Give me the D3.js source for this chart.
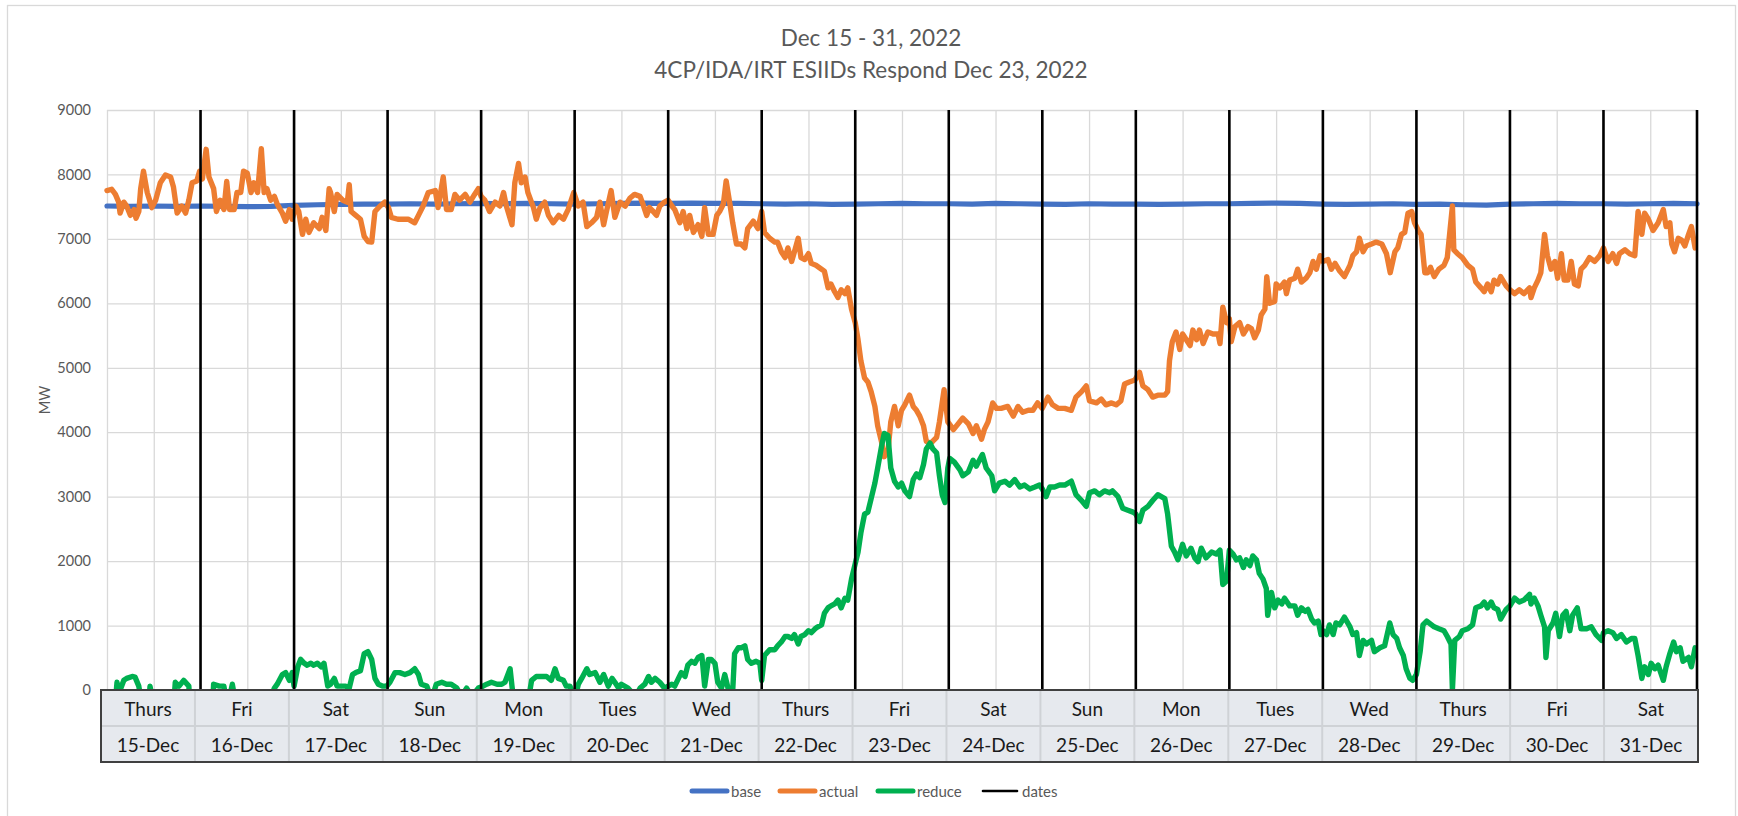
<!DOCTYPE html>
<html><head><meta charset="utf-8">
<script src="https://cdn.jsdelivr.net/npm/d3@7"></script>
<style>
body{margin:0;background:#fff;}
svg{display:block;font-family:Lato,"Open Sans",sans-serif;}
</style>
</head><body>
<svg id="chart" width="1738" height="816"></svg>
<script>
// ---------------- data ----------------
const titleLines = ["Dec 15 - 31, 2022", "4CP/IDA/IRT ESIIDs Respond Dec 23, 2022"];
const yAxisTitle = "MW";
const yTicks = [0,1000,2000,3000,4000,5000,6000,7000,8000,9000];
const dayNames = ["Thurs","Fri","Sat","Sun","Mon","Tues","Wed","Thurs","Fri","Sat","Sun","Mon","Tues","Wed","Thurs","Fri","Sat"];
const dateLabels = ["15-Dec","16-Dec","17-Dec","18-Dec","19-Dec","20-Dec","21-Dec","22-Dec","23-Dec","24-Dec","25-Dec","26-Dec","27-Dec","28-Dec","29-Dec","30-Dec","31-Dec"];
const seriesNames = ["base","actual","reduce","dates"];
const seriesColors = ["#4472C4","#ED7D31","#00B050","#000000"];
// day boundaries (days after Dec 15 00:00) where the "dates" series draws vertical lines
const dateLines = [1,2,3,4,5,6,7,8,9,10,11,12,13,14,15,16,17];
const dateLineRange = [0,9000];
// base: one value every 6 hours, starting Dec 15 00:00
const baseStepDays = 0.25;
const baseMW = [7510,7505,7510,7505, 7510,7505,7500,7505, 7520,7530,7535,7540, 7540,7545,7540,7545,
  7550,7545,7550,7545, 7540,7545,7550,7555, 7550,7555,7550,7550, 7545,7540,7545,7535,
  7540,7545,7550,7545, 7545,7540,7550,7545, 7540,7535,7545,7540, 7540,7535,7540,7545,
  7545,7550,7555,7550, 7540,7535,7540,7545, 7535,7540,7530,7525, 7540,7545,7550,7545,
  7545,7540,7545,7550, 7545];
// actual: [days after Dec 15 00:00, MW]
const actual = [[0,7750],[0.05,7770],[0.09,7690],[0.125,7570],[0.14,7400],[0.18,7570],[0.21,7510],[0.25,7365],[0.29,7455],[0.31,7320],[0.34,7425],[0.36,7780],[0.39,8050],[0.43,7720],[0.48,7485],[0.52,7600],[0.57,7870],[0.625,7990],[0.68,7960],[0.71,7810],[0.75,7400],[0.80,7510],[0.84,7400],[0.875,7600],[0.91,7870],[0.96,7900],[0.99,8050],[1.02,7930],[1.06,8390],[1.09,7960],[1.14,7780],[1.17,7425],[1.21,7600],[1.25,7455],[1.28,7890],[1.31,7455],[1.36,7455],[1.39,7720],[1.43,7720],[1.46,8050],[1.50,8020],[1.54,7720],[1.57,7870],[1.61,7720],[1.65,8400],[1.68,7720],[1.71,7780],[1.75,7600],[1.79,7660],[1.82,7540],[1.875,7400],[1.91,7275],[1.95,7455],[1.98,7305],[2.02,7510],[2.05,7425],[2.09,7070],[2.125,7305],[2.16,7100],[2.21,7250],[2.27,7160],[2.30,7335],[2.34,7130],[2.375,7780],[2.39,7720],[2.43,7425],[2.46,7690],[2.52,7600],[2.57,7570],[2.59,7840],[2.61,7425],[2.66,7365],[2.71,7305],[2.75,7040],[2.79,6960],[2.83,6950],[2.865,7425],[2.92,7510],[2.97,7570],[3.01,7485],[3.04,7335],[3.11,7305],[3.22,7305],[3.29,7250],[3.33,7365],[3.38,7510],[3.435,7720],[3.51,7750],[3.54,7485],[3.595,7960],[3.63,7455],[3.68,7455],[3.72,7690],[3.77,7600],[3.83,7690],[3.88,7570],[3.93,7690],[3.97,7780],[4.0,7660],[4.04,7600],[4.09,7425],[4.15,7570],[4.20,7510],[4.24,7720],[4.27,7510],[4.33,7220],[4.36,7870],[4.40,8170],[4.43,7870],[4.47,7960],[4.50,7720],[4.56,7485],[4.59,7305],[4.63,7485],[4.68,7570],[4.72,7365],[4.77,7250],[4.83,7365],[4.88,7305],[4.93,7455],[4.99,7720],[5.04,7510],[5.09,7570],[5.13,7190],[5.18,7250],[5.235,7335],[5.27,7570],[5.31,7220],[5.34,7425],[5.39,7750],[5.43,7335],[5.485,7570],[5.54,7510],[5.59,7630],[5.64,7690],[5.70,7660],[5.73,7540],[5.77,7365],[5.80,7485],[5.84,7425],[5.875,7365],[5.91,7510],[5.96,7570],[6.0,7600],[6.04,7510],[6.07,7455],[6.125,7250],[6.16,7425],[6.20,7160],[6.23,7365],[6.27,7100],[6.32,7220],[6.36,7040],[6.39,7485],[6.43,7070],[6.48,7070],[6.52,7365],[6.55,7425],[6.59,7540],[6.62,7900],[6.66,7540],[6.69,7250],[6.73,6920],[6.78,6920],[6.82,6860],[6.85,7160],[6.91,7275],[6.96,7160],[7.0,7425],[7.03,7100],[7.085,7010],[7.14,6950],[7.17,6950],[7.21,6800],[7.25,6710],[7.28,6860],[7.32,6650],[7.35,6800],[7.39,7010],[7.42,6710],[7.46,6680],[7.50,6770],[7.53,6620],[7.58,6590],[7.64,6530],[7.67,6500],[7.71,6240],[7.74,6300],[7.78,6180],[7.815,6090],[7.85,6210],[7.89,6150],[7.92,6240],[7.96,5910],[8.0,5700],[8.03,5435],[8.06,5110],[8.10,4840],[8.135,4780],[8.17,4630],[8.21,4400],[8.24,4100],[8.28,3860],[8.31,3620],[8.35,3710],[8.38,4160],[8.42,4400],[8.46,4100],[8.495,4340],[8.53,4425],[8.58,4575],[8.62,4400],[8.655,4340],[8.69,4250],[8.73,4100],[8.76,3860],[8.80,3830],[8.83,3860],[8.87,3920],[8.90,4160],[8.95,4660],[8.99,4160],[9.05,4040],[9.10,4130],[9.15,4220],[9.21,4130],[9.26,3980],[9.295,4100],[9.35,3890],[9.38,4040],[9.42,4160],[9.47,4455],[9.51,4370],[9.56,4370],[9.63,4400],[9.69,4250],[9.74,4400],[9.79,4310],[9.85,4340],[9.90,4340],[9.95,4455],[10.0,4370],[10.06,4545],[10.11,4425],[10.17,4370],[10.24,4370],[10.31,4340],[10.36,4545],[10.42,4630],[10.47,4720],[10.505,4485],[10.58,4455],[10.63,4515],[10.68,4425],[10.74,4455],[10.79,4425],[10.84,4485],[10.88,4750],[10.93,4780],[10.99,4810],[11.04,4930],[11.075,4720],[11.13,4660],[11.18,4545],[11.235,4575],[11.31,4575],[11.34,4630],[11.36,5110],[11.39,5405],[11.43,5555],[11.47,5285],[11.50,5525],[11.54,5435],[11.58,5345],[11.61,5585],[11.65,5435],[11.68,5585],[11.72,5375],[11.77,5555],[11.825,5525],[11.88,5525],[11.90,5375],[11.93,5940],[11.97,5700],[12.0,5760],[12.02,5405],[12.06,5640],[12.11,5700],[12.15,5525],[12.20,5640],[12.235,5610],[12.27,5465],[12.31,5585],[12.34,5820],[12.38,5910],[12.40,6415],[12.43,6000],[12.485,6030],[12.50,6300],[12.54,6240],[12.59,6330],[12.61,6150],[12.645,6360],[12.70,6390],[12.73,6530],[12.77,6330],[12.82,6390],[12.86,6475],[12.895,6650],[12.93,6530],[12.97,6740],[13.0,6650],[13.055,6680],[13.09,6530],[13.13,6620],[13.18,6500],[13.23,6415],[13.29,6590],[13.32,6740],[13.36,6800],[13.39,7010],[13.43,6800],[13.465,6890],[13.52,6920],[13.57,6950],[13.63,6920],[13.68,6770],[13.72,6475],[13.77,6800],[13.80,6860],[13.84,7070],[13.875,7100],[13.91,7400],[13.95,7425],[13.98,7250],[14.02,7130],[14.05,7070],[14.09,6475],[14.12,6475],[14.15,6560],[14.19,6415],[14.24,6530],[14.295,6590],[14.33,6710],[14.385,7510],[14.40,6830],[14.44,6770],[14.49,6710],[14.55,6590],[14.60,6530],[14.635,6330],[14.69,6240],[14.725,6180],[14.76,6300],[14.80,6180],[14.83,6360],[14.87,6300],[14.90,6415],[14.96,6270],[15.0,6210],[15.05,6150],[15.10,6210],[15.15,6150],[15.21,6240],[15.225,6090],[15.26,6240],[15.30,6360],[15.33,6475],[15.37,7070],[15.40,6740],[15.44,6530],[15.48,6650],[15.51,6390],[15.55,6770],[15.58,6360],[15.62,6360],[15.655,6650],[15.69,6300],[15.73,6270],[15.76,6530],[15.80,6590],[15.85,6710],[15.905,6650],[15.96,6740],[16.0,6860],[16.05,6650],[16.10,6770],[16.14,6620],[16.17,6770],[16.23,6830],[16.28,6770],[16.335,6740],[16.37,7425],[16.41,7070],[16.44,7400],[16.48,7305],[16.53,7130],[16.585,7250],[16.64,7455],[16.67,7190],[16.71,7250],[16.73,6920],[16.76,6800],[16.80,7010],[16.835,6980],[16.87,6890],[16.91,7070],[16.94,7190],[16.98,6860]];
// reduce: [days after Dec 15 00:00, MW]  (negative values fall below the axis minimum and are clipped)
const reduce = [[0,-240],[0.09,-180],[0.107,120],[0.125,-60],[0.18,150],[0.21,180],[0.27,210],[0.30,200],[0.34,60],[0.375,-250],[0.45,-150],[0.46,60],[0.48,-100],[0.71,-300],[0.73,120],[0.77,60],[0.82,150],[0.875,60],[0.89,-300],[1.125,-400],[1.14,90],[1.20,60],[1.25,60],[1.29,-300],[1.32,-50],[1.34,90],[1.375,-200],[1.73,-200],[1.79,30],[1.82,90],[1.875,240],[1.91,270],[1.95,150],[1.98,270],[2.0,60],[2.04,360],[2.07,475],[2.11,415],[2.14,385],[2.18,415],[2.21,385],[2.25,415],[2.29,360],[2.32,415],[2.36,60],[2.39,90],[2.43,180],[2.46,60],[2.5,60],[2.55,60],[2.59,30],[2.625,240],[2.66,270],[2.71,300],[2.75,565],[2.79,595],[2.83,475],[2.865,180],[2.90,90],[2.95,60],[2.99,60],[3.025,120],[3.08,270],[3.13,270],[3.185,240],[3.24,270],[3.29,330],[3.33,240],[3.36,90],[3.42,60],[3.47,-150],[3.52,90],[3.58,120],[3.63,90],[3.68,90],[3.74,30],[3.79,-100],[3.845,30],[3.90,-100],[3.97,30],[4.02,60],[4.06,90],[4.11,120],[4.17,90],[4.22,90],[4.255,120],[4.31,330],[4.33,60],[4.36,-300],[4.50,-200],[4.54,150],[4.59,210],[4.65,210],[4.70,210],[4.75,150],[4.79,330],[4.825,180],[4.88,150],[4.91,60],[4.95,60],[5.0,-150],[5.04,90],[5.075,180],[5.13,330],[5.16,240],[5.22,270],[5.27,120],[5.31,240],[5.36,60],[5.40,180],[5.43,120],[5.47,30],[5.50,90],[5.57,30],[5.65,-100],[5.70,30],[5.75,90],[5.79,210],[5.82,120],[5.86,180],[5.91,120],[5.96,30],[6.0,60],[6.04,90],[6.07,60],[6.11,180],[6.14,270],[6.18,210],[6.21,385],[6.25,445],[6.285,415],[6.32,505],[6.36,535],[6.37,385],[6.39,60],[6.43,475],[6.46,475],[6.50,415],[6.53,120],[6.57,30],[6.605,240],[6.64,30],[6.68,-300],[6.71,565],[6.75,655],[6.78,655],[6.82,685],[6.85,475],[6.89,415],[6.94,445],[6.98,415],[7.0,150],[7.03,535],[7.085,625],[7.14,625],[7.17,685],[7.21,745],[7.25,830],[7.28,830],[7.32,800],[7.35,860],[7.39,715],[7.42,830],[7.46,860],[7.50,920],[7.53,890],[7.57,950],[7.60,980],[7.64,1010],[7.67,1190],[7.71,1275],[7.74,1305],[7.78,1335],[7.815,1395],[7.85,1275],[7.89,1425],[7.92,1395],[7.96,1720],[8.0,1960],[8.03,2140],[8.06,2435],[8.10,2730],[8.135,2760],[8.17,2970],[8.21,3210],[8.24,3445],[8.28,3770],[8.31,3980],[8.35,3950],[8.38,3445],[8.42,3240],[8.46,3150],[8.495,3210],[8.53,3090],[8.58,3000],[8.62,3265],[8.655,3355],[8.69,3295],[8.73,3500],[8.76,3740],[8.80,3830],[8.83,3740],[8.87,3680],[8.90,3325],[8.93,3030],[8.96,2910],[8.99,3445],[9.01,3595],[9.06,3535],[9.12,3415],[9.15,3325],[9.21,3385],[9.26,3565],[9.295,3475],[9.36,3655],[9.40,3445],[9.46,3325],[9.49,3090],[9.54,3210],[9.60,3240],[9.65,3180],[9.705,3265],[9.76,3150],[9.81,3180],[9.865,3120],[9.92,3150],[9.97,3180],[10.0,3120],[10.04,3000],[10.08,3150],[10.13,3150],[10.185,3180],[10.24,3180],[10.31,3240],[10.36,3030],[10.42,2940],[10.47,2850],[10.505,3060],[10.56,3090],[10.61,3030],[10.665,3090],[10.72,3060],[10.75,3090],[10.81,3000],[10.86,2820],[10.915,2790],[10.97,2760],[11.0,2730],[11.04,2615],[11.075,2790],[11.13,2850],[11.18,2940],[11.235,3030],[11.31,2970],[11.34,2730],[11.38,2230],[11.415,2140],[11.45,2020],[11.50,2260],[11.54,2080],[11.59,2200],[11.63,2050],[11.665,1990],[11.70,2200],[11.75,2050],[11.81,2140],[11.86,2110],[11.90,2170],[11.93,1635],[11.97,1690],[12.0,2170],[12.04,2110],[12.075,2020],[12.11,2050],[12.15,1900],[12.18,2020],[12.22,1930],[12.25,2080],[12.29,2020],[12.32,1810],[12.36,1720],[12.395,1575],[12.41,1160],[12.45,1515],[12.485,1275],[12.52,1395],[12.56,1335],[12.59,1425],[12.645,1305],[12.70,1305],[12.73,1160],[12.77,1275],[12.81,1220],[12.84,1250],[12.88,1100],[12.91,1040],[12.95,1070],[12.98,860],[13.0,920],[13.04,860],[13.07,1010],[13.11,860],[13.14,1040],[13.18,1010],[13.23,1130],[13.29,980],[13.32,860],[13.36,890],[13.39,535],[13.43,770],[13.465,715],[13.52,770],[13.55,595],[13.61,655],[13.66,685],[13.715,1040],[13.75,860],[13.79,800],[13.82,655],[13.86,535],[13.89,330],[13.93,180],[13.96,150],[14.0,240],[14.04,595],[14.07,1010],[14.11,1070],[14.19,980],[14.24,950],[14.295,920],[14.33,830],[14.37,715],[14.385,0],[14.41,770],[14.46,830],[14.49,920],[14.55,950],[14.60,1010],[14.635,1275],[14.69,1305],[14.725,1365],[14.76,1275],[14.80,1365],[14.83,1275],[14.87,1250],[14.90,1100],[14.96,1250],[15.0,1305],[15.05,1425],[15.10,1365],[15.15,1395],[15.21,1485],[15.225,1335],[15.26,1425],[15.30,1305],[15.33,1160],[15.37,980],[15.385,505],[15.41,920],[15.46,1040],[15.49,1190],[15.53,830],[15.565,1160],[15.60,1220],[15.64,920],[15.67,1160],[15.72,1275],[15.76,950],[15.82,950],[15.87,980],[15.92,860],[15.98,770],[16.0,890],[16.05,920],[16.10,890],[16.14,800],[16.19,860],[16.245,745],[16.30,800],[16.335,800],[16.37,535],[16.41,180],[16.44,360],[16.48,240],[16.51,415],[16.55,330],[16.585,385],[16.64,150],[16.67,360],[16.71,565],[16.75,745],[16.78,595],[16.82,655],[16.85,445],[16.91,505],[16.94,360],[16.98,655]];

// ---------------- layout ----------------
const svg = d3.select("#chart");
const W = 1738, H = 816;
const plot = {left:107, right:1697, top:110, bottom:690};
const table = {left:101, right:1698, top:690, rowH:36};
const numDays = dayNames.length;

const x = d3.scaleLinear().domain([0, numDays]).range([plot.left, plot.right]);
const y = d3.scaleLinear().domain([0, 9000]).range([plot.bottom, plot.top]);

svg.append("rect").attr("width", W).attr("height", H).attr("fill", "#fff");
// chart area border
svg.append("rect").attr("x", 7.5).attr("y", 5.5).attr("width", 1728).attr("height", 830)
  .attr("fill", "none").attr("stroke", "#d9d9d9").attr("stroke-width", 1.3);

// title
const title = svg.append("g").attr("fill", "#595959").attr("font-size", 22.5).attr("text-anchor", "middle");
titleLines.forEach((t, i) => title.append("text").attr("x", 871).attr("y", 46 + i * 32).text(t));

// gridlines
const halfDays = d3.range(0, numDays + 0.001, 0.5);
svg.append("g").attr("transform", `translate(0,${plot.bottom})`)
  .call(d3.axisBottom(x).tickValues(halfDays).tickSize(-(plot.bottom - plot.top)).tickFormat(""))
  .call(g => g.select(".domain").remove())
  .call(g => g.selectAll("line").attr("stroke", "#d9d9d9").attr("stroke-width", 1.3));
svg.append("g").attr("transform", `translate(${plot.left},0)`)
  .call(d3.axisLeft(y).tickValues(yTicks).tickSize(-(plot.right - plot.left)).tickPadding(16).tickFormat(d3.format("d")))
  .call(g => g.select(".domain").remove())
  .call(g => g.selectAll("line").attr("stroke", "#d9d9d9").attr("stroke-width", 1.3))
  .call(g => g.selectAll("text").attr("fill", "#595959").attr("font-size", 14.5).attr("font-family", "Lato"));

// y-axis title
svg.append("text").attr("transform", `translate(44,${(plot.top + plot.bottom) / 2}) rotate(-90)`)
  .attr("text-anchor", "middle").attr("dominant-baseline", "central")
  .attr("fill", "#595959").attr("font-size", 14.5).text(yAxisTitle);

// clip
svg.append("clipPath").attr("id", "plotclip").append("rect")
  .attr("x", plot.left - 4).attr("y", plot.top - 6).attr("width", plot.right - plot.left + 8).attr("height", plot.bottom - plot.top + 6);

const line = d3.line().x(d => x(d[0])).y(d => y(d[1])).curve(d3.curveLinear);
const series = svg.append("g").attr("clip-path", "url(#plotclip)")
  .attr("fill", "none").attr("stroke-linejoin", "round").attr("stroke-linecap", "round");

const baseData = baseMW.map((v, i) => [i * baseStepDays, v]);
series.append("path").datum(baseData).attr("d", line).attr("stroke", seriesColors[0]).attr("stroke-width", 5.2);
series.append("path").datum(actual).attr("d", line).attr("stroke", seriesColors[1]).attr("stroke-width", 5.4);
series.append("path").datum(reduce).attr("d", line).attr("stroke", seriesColors[2]).attr("stroke-width", 5.4);

// dates series: vertical lines at day boundaries
svg.append("g").selectAll("line").data(dateLines).join("line")
  .attr("x1", d => x(d)).attr("x2", d => x(d))
  .attr("y1", y(dateLineRange[0])).attr("y2", y(dateLineRange[1]))
  .attr("stroke", seriesColors[3]).attr("stroke-width", 2.6);

// data table
const colW = (table.right - table.left) / numDays;
const tg = svg.append("g");
tg.append("rect").attr("x", table.left).attr("y", table.top).attr("width", table.right - table.left)
  .attr("height", table.rowH * 2).attr("fill", "#e6e9ee");
tg.append("line").attr("x1", table.left).attr("x2", table.right)
  .attr("y1", table.top + table.rowH).attr("y2", table.top + table.rowH)
  .attr("stroke", "#cfd2d6").attr("stroke-width", 2);
tg.selectAll("line.col").data(d3.range(1, numDays)).join("line").attr("class", "col")
  .attr("x1", i => table.left + i * colW).attr("x2", i => table.left + i * colW)
  .attr("y1", table.top).attr("y2", table.top + table.rowH * 2)
  .attr("stroke", "#cfd2d6").attr("stroke-width", 2);
tg.append("rect").attr("x", table.left).attr("y", table.top).attr("width", table.right - table.left)
  .attr("height", table.rowH * 2).attr("fill", "none").attr("stroke", "#404040").attr("stroke-width", 2);
tg.selectAll("text.day").data(dayNames).join("text").attr("class", "day")
  .attr("x", (d, i) => table.left + (i + 0.5) * colW).attr("y", table.top + 26)
  .attr("text-anchor", "middle").attr("font-size", 19).attr("fill", "#1a1a1a").text(d => d);
tg.selectAll("text.date").data(dateLabels).join("text").attr("class", "date")
  .attr("x", (d, i) => table.left + (i + 0.5) * colW).attr("y", table.top + table.rowH + 26)
  .attr("text-anchor", "middle").attr("font-size", 19).attr("fill", "#1a1a1a").text(d => d);

// legend
const legendX = [690, 778, 876, 981];
const lg = svg.append("g").attr("transform", "translate(0,791)");
seriesNames.forEach((name, i) => {
  const g = lg.append("g").attr("transform", `translate(${legendX[i]},0)`);
  g.append("line").attr("x1", 2).attr("x2", i === 3 ? 36 : 37).attr("y1", 0).attr("y2", 0)
    .attr("stroke", seriesColors[i]).attr("stroke-width", i === 3 ? 2.6 : 5).attr("stroke-linecap", "round");
  g.append("text").attr("x", 41).attr("y", 0).attr("dominant-baseline", "central")
    .attr("font-size", 15).attr("fill", "#595959").text(name);
});
</script>
</body></html>
